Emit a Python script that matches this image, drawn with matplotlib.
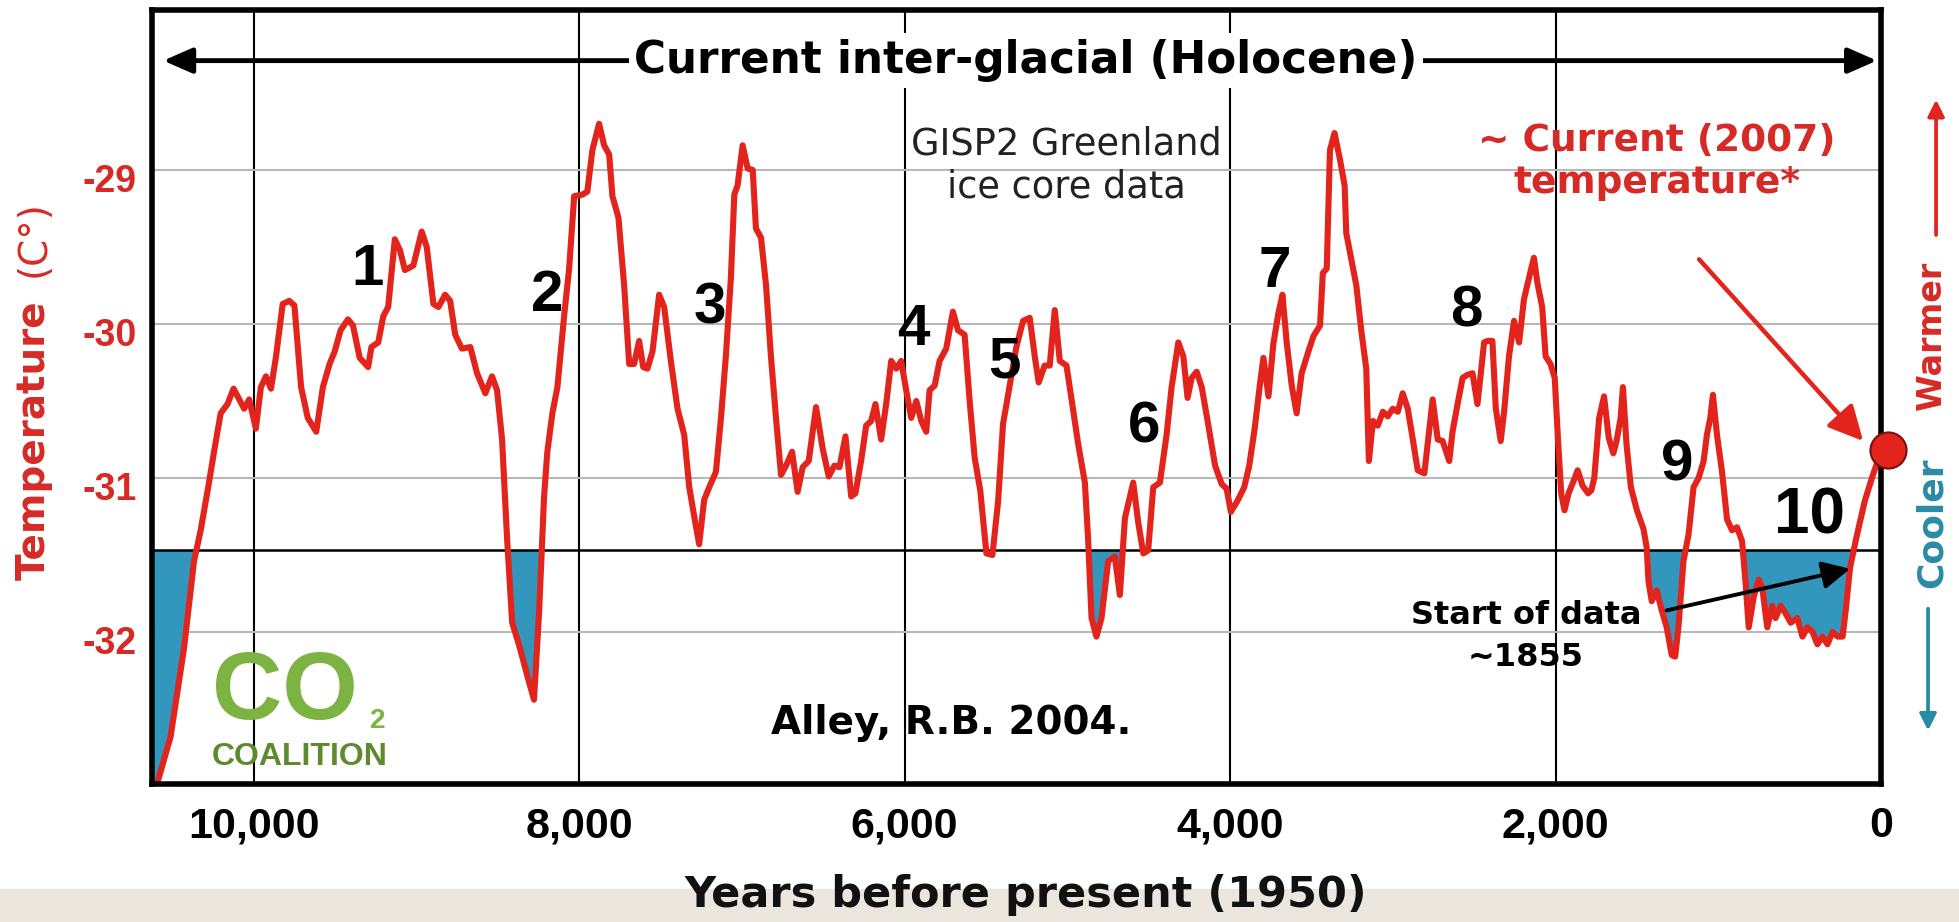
import numpy as np
import matplotlib.pyplot as plt
import matplotlib.transforms as mtransforms
from matplotlib.patches import Rectangle

# GISP2 ice core temperature (years before 1950)
years = np.array([
    10610, 10510, 10428, 10366, 10325, 10274, 10243, 10202, 10160, 10123,
    10088, 10058, 10027, 9986, 9955, 9924, 9893, 9862, 9821, 9780,
    9749, 9708, 9667, 9615, 9574, 9533, 9502, 9465, 9420, 9389,
    9348, 9296, 9276, 9234, 9203, 9173, 9132, 9101, 9070, 9018,
    8967, 8936, 8895, 8864, 8823, 8792, 8761, 8720, 8668, 8627,
    8576, 8535, 8504, 8473, 8442, 8411, 8370, 8319, 8277, 8246,
    8215, 8195, 8164, 8133, 8092, 8061, 8030, 7979, 7949, 7918,
    7877, 7846, 7815, 7795, 7758, 7723, 7692, 7662, 7631, 7606,
    7580, 7549, 7508, 7477, 7436, 7395, 7354, 7323, 7286, 7262,
    7231, 7200, 7159, 7128, 7098, 7067, 7046, 7026, 6995, 6964,
    6933, 6913, 6882, 6851, 6821, 6790, 6759, 6728, 6691, 6657,
    6626, 6589, 6544, 6503, 6466, 6431, 6400, 6363, 6328, 6302,
    6267, 6236, 6205, 6179, 6144, 6113, 6082, 6051, 6021, 5990,
    5959, 5928, 5897, 5867, 5846, 5815, 5785, 5744, 5703, 5672,
    5631, 5600, 5569, 5535, 5497, 5460, 5425, 5395, 5354, 5313,
    5272, 5231, 5200, 5176, 5139, 5108, 5077, 5046, 5005, 4974,
    4933, 4892, 4872, 4851, 4821, 4790, 4749, 4708, 4677, 4646,
    4615, 4595, 4564, 4533, 4503, 4472, 4431, 4390, 4359, 4318,
    4287, 4261, 4236, 4205, 4174, 4133, 4092, 4051, 4021, 3995,
    3955, 3913, 3882, 3850, 3815, 3795, 3764, 3734, 3703, 3678,
    3652, 3621, 3591, 3560, 3519, 3488, 3447, 3430, 3406, 3386,
    3358, 3325, 3296, 3286, 3255, 3224, 3194, 3163, 3147, 3122,
    3092, 3061, 3031, 3000, 2969, 2939, 2908, 2877, 2847, 2806,
    2786, 2755, 2724, 2694, 2653, 2633, 2602, 2571, 2541, 2510,
    2480, 2459, 2439, 2418, 2388, 2367, 2337, 2316, 2286, 2255,
    2224, 2194, 2163, 2133, 2112, 2082, 2061, 2031, 2005, 1985,
    1965, 1945, 1920, 1893, 1864, 1834, 1800, 1780, 1762, 1732,
    1702, 1673, 1645, 1625, 1600, 1586, 1564, 1537, 1500, 1460,
    1440, 1429, 1409, 1378, 1350, 1317, 1286, 1265, 1245, 1214,
    1183, 1152, 1121, 1090, 1070, 1049, 1033, 1008, 977, 946,
    915, 885, 854, 833, 813, 782, 751, 730, 699, 669,
    648, 617, 586, 555, 514, 483, 452, 421, 391, 360,
    329, 298, 267, 236, 216, 190, 150, 100, 50, 0,
])
temps = np.array([
    -33.05, -32.68, -32.11, -31.54, -31.34, -31.03, -30.83, -30.58, -30.52, -30.42,
    -30.49, -30.55, -30.49, -30.68, -30.41, -30.34, -30.42, -30.21, -29.87, -29.85,
    -29.88, -30.41, -30.61, -30.70, -30.41, -30.26, -30.18, -30.04, -29.97, -30.01,
    -30.22, -30.28, -30.15, -30.12, -29.95, -29.89, -29.45, -29.52, -29.65, -29.62,
    -29.40, -29.50, -29.87, -29.89, -29.81, -29.85, -30.07, -30.16, -30.15, -30.32,
    -30.45, -30.34, -30.43, -30.75, -31.40, -31.94, -32.08, -32.28, -32.44, -31.88,
    -31.12, -30.83, -30.58, -30.41, -29.95, -29.64, -29.17, -29.16, -29.14, -28.87,
    -28.70, -28.84, -28.90, -29.17, -29.31, -29.75, -30.26, -30.26, -30.11, -30.28,
    -30.29, -30.18, -29.81, -29.89, -30.24, -30.55, -30.72, -31.06, -31.29, -31.43,
    -31.14, -31.06, -30.96, -30.61, -30.21, -29.70, -29.16, -29.10, -28.84, -28.99,
    -29.00, -29.38, -29.44, -29.75, -30.21, -30.61, -30.98, -30.92, -30.83, -31.09,
    -30.93, -30.89, -30.54, -30.81, -30.99, -30.92, -30.93, -30.73, -31.12, -31.10,
    -30.89, -30.66, -30.63, -30.52, -30.75, -30.52, -30.24, -30.29, -30.24, -30.43,
    -30.61, -30.50, -30.63, -30.70, -30.43, -30.40, -30.24, -30.16, -29.92, -30.04,
    -30.07, -30.50, -30.87, -31.08, -31.49, -31.50, -31.15, -30.65, -30.40, -30.15,
    -29.98, -29.96, -30.21, -30.38, -30.27, -30.27, -29.91, -30.24, -30.27, -30.49,
    -30.78, -31.03, -31.40, -31.91, -32.03, -31.91, -31.54, -31.51, -31.76, -31.26,
    -31.12, -31.03, -31.29, -31.49, -31.47, -31.06, -31.03, -30.72, -30.41, -30.12,
    -30.21, -30.48, -30.35, -30.31, -30.41, -30.66, -30.92, -31.04, -31.07, -31.22,
    -31.15, -31.06, -30.92, -30.69, -30.38, -30.22, -30.47, -30.13, -29.93, -29.81,
    -30.12, -30.40, -30.58, -30.32, -30.18, -30.08, -30.01, -29.67, -29.64, -28.87,
    -28.76, -28.93, -29.10, -29.41, -29.58, -29.75, -30.04, -30.29, -30.89, -30.63,
    -30.66, -30.57, -30.60, -30.55, -30.57, -30.45, -30.55, -30.75, -30.95, -30.97,
    -30.78, -30.49, -30.75, -30.76, -30.89, -30.70, -30.52, -30.35, -30.33, -30.32,
    -30.52, -30.32, -30.12, -30.11, -30.11, -30.55, -30.76, -30.57, -30.21, -29.98,
    -30.12, -29.84, -29.70, -29.57, -29.73, -29.89, -30.21, -30.26, -30.35, -30.75,
    -31.10, -31.21, -31.10, -31.03, -30.95, -31.05, -31.10, -31.08, -31.00, -30.61,
    -30.47, -30.74, -30.84, -30.76, -30.61, -30.41, -30.78, -31.06, -31.21, -31.33,
    -31.45, -31.67, -31.80, -31.73, -31.85, -31.97, -32.15, -32.16, -31.97, -31.54,
    -31.37, -31.06, -31.00, -30.89, -30.72, -30.61, -30.46, -30.72, -30.96, -31.27,
    -31.34, -31.32, -31.41, -31.67, -31.97, -31.77, -31.66, -31.71, -31.97, -31.83,
    -31.91, -31.83, -31.88, -31.94, -31.91, -32.03, -31.97, -32.00, -32.08, -32.03,
    -32.08, -32.00, -32.03, -32.03, -31.85, -31.58, -31.38, -31.15, -30.98, -30.83,
])

cold_line = -31.47
current_year, current_temp = -43, -30.82

x_ticks = [10000, 8000, 6000, 4000, 2000, 0]
x_tick_labels = ['10,000', '8,000', '6,000', '4,000', '2,000', '0']
y_ticks = [-29, -30, -31, -32]
y_tick_labels = ['-29', '-30', '-31', '-32']

event_labels = ['1', '2', '3', '4', '5', '6', '7', '8', '9', '10']
event_x = [9297, 8197, 7196, 5948, 5383, 4529, 3724, 2550, 1254, 440]
event_y = [-29.65, -29.82, -29.90, -30.04, -30.25, -30.67, -29.66, -29.92, -30.92, -31.25]

red = '#e3241c'
red_txt = '#d62a26'
blue = '#3397bd'
teal = '#2b8aa6'

fig = plt.figure(figsize=(19.59, 9.22), dpi=100)
fig.patches.append(Rectangle((0, 0), 1, 0.036, transform=fig.transFigure,
                             color='#ebe7df', zorder=0))
ax = fig.add_axes([0.0776, 0.1497, 0.8826, 0.8395])
ax.set_xlim(10624, 0)
ax.set_ylim(-32.987, -27.961)

ax.set_xticks(x_ticks)
ax.set_xticklabels(x_tick_labels, fontfamily='Liberation Sans', fontweight='bold', fontsize=31)
ax.set_yticks(y_ticks)
ax.set_yticklabels(y_tick_labels, fontfamily='Liberation Sans', fontweight='bold',
                   fontsize=27, color=red_txt)
ax.tick_params(axis='x', length=0, pad=16)
ax.tick_params(axis='y', length=0, pad=11)
shift = mtransforms.ScaledTranslation(0, -6 / 72, fig.dpi_scale_trans)
for lbl in ax.get_yticklabels():
    lbl.set_transform(lbl.get_transform() + shift)

ax.set_axisbelow(True)
ax.xaxis.grid(True, color='black', lw=1.5)
ax.yaxis.grid(True, color='#b8b8b8', lw=1.5)
for s in ax.spines.values():
    s.set_linewidth(4)
    s.set_zorder(7)

ax.fill_between(years, temps, cold_line, where=temps < cold_line, interpolate=True,
                color=blue, lw=0, zorder=2)
ax.axhline(cold_line, color='black', lw=1.8, zorder=3)
ax.plot(years, temps, color=red, lw=4.4, zorder=4, solid_joinstyle='round')
ax.plot([current_year], [current_temp], 'o', ms=26, color=red, mec='#7a1010', mew=1.5,
        clip_on=False, zorder=8)

# header arrow with title
ax.annotate('', xy=(10555, -28.29), xytext=(25, -28.29),
            arrowprops=dict(arrowstyle='<|-|>,head_length=0.8,head_width=0.35',
                            color='black', lw=3.5, mutation_scale=22, shrinkA=0, shrinkB=0))
ax.text(5254, -28.29, 'Current inter-glacial (Holocene)', ha='center', va='center',
        fontsize=31.5, fontweight='bold', color='black', zorder=5,
        bbox=dict(facecolor='white', edgecolor='none', pad=4))

ax.text(5008, -28.97, 'GISP2 Greenland\nice core data', ha='center', va='center',
        fontsize=26.5, color='#222222', zorder=5)
ax.text(5715, -32.59, 'Alley, R.B. 2004.', ha='center', va='center',
        fontsize=28, fontweight='bold', color='black', zorder=5)

for lab, x, y in zip(event_labels, event_x, event_y):
    ax.text(x, y, lab, ha='center', va='center', fontfamily='Liberation Sans',
            fontweight='bold', fontsize=46 if lab == '10' else 42, color='black', zorder=5)

ax.text(1376, -28.95, '~ Current (2007)\ntemperature*', ha='center', va='center',
        fontsize=27, fontweight='bold', color=red_txt, zorder=5)
ax.annotate('', xy=(110, -30.76), xytext=(1118, -29.58),
            arrowprops=dict(arrowstyle='-|>,head_length=0.6,head_width=0.3', color=red,
                            lw=3.2, mutation_scale=35, shrinkA=0, shrinkB=0), zorder=6)

ax.text(2181, -32.03, 'Start of data\n~1855', ha='center', va='center', linespacing=1.45,
        fontsize=23, fontweight='bold', color='black', zorder=5)
ax.annotate('', xy=(190, -31.59), xytext=(1317, -31.86),
            arrowprops=dict(arrowstyle='-|>,head_length=0.6,head_width=0.3', color='black',
                            lw=2.8, mutation_scale=28, shrinkA=0, shrinkB=0), zorder=6)

# CO2 Coalition logo
ax.text(9810, -32.40, 'CO', ha='center', va='center', fontfamily='Liberation Sans',
        fontweight='bold', fontsize=70, color='#7cb342', zorder=5)
ax.text(9236, -32.58, '2', ha='center', va='center', fontfamily='Liberation Sans',
        fontweight='bold', fontsize=20, color='#7cb342', zorder=5)
ax.text(9715, -32.81, 'COALITION', ha='center', va='center', fontfamily='Liberation Sans',
        fontweight='bold', fontsize=23, color='#5d8a2c', zorder=5)

# axis labels
fig.text(0.02297, 0.3709, 'Temperature', rotation=90, rotation_mode='anchor',
         ha='left', va='baseline', fontsize=28, fontweight='bold', color=red_txt)
fig.text(0.02297, 0.7000, '(C°)', rotation=90, rotation_mode='anchor',
         ha='left', va='baseline', fontsize=28, color=red_txt)
fig.text(1026 / 1959, 1 - 907 / 922, 'Years before present (1950)', ha='center',
         va='baseline', fontsize=31, fontweight='bold', color='#111111')

# warmer / cooler side note
fig.text(0.9862, 0.6356, 'Warmer', rotation=90, ha='center', va='center',
         fontsize=24, fontweight='bold', color=red_txt)
fig.text(0.9862, 0.4330, 'Cooler', rotation=90, ha='center', va='center',
         fontsize=26, fontweight='bold', color=teal)
fig.add_artist(plt.annotate('', xy=(0.9883, 0.8915), xytext=(0.9883, 0.7451),
               xycoords='figure fraction',
               arrowprops=dict(arrowstyle='-|>', color=red, lw=2.4, mutation_scale=25,
                               shrinkA=0, shrinkB=0)))
fig.add_artist(plt.annotate('', xy=(0.9842, 0.2080), xytext=(0.9842, 0.3400),
               xycoords='figure fraction',
               arrowprops=dict(arrowstyle='-|>', color=teal, lw=2.4, mutation_scale=25,
                               shrinkA=0, shrinkB=0)))

fig.savefig('out.png', dpi=100)
